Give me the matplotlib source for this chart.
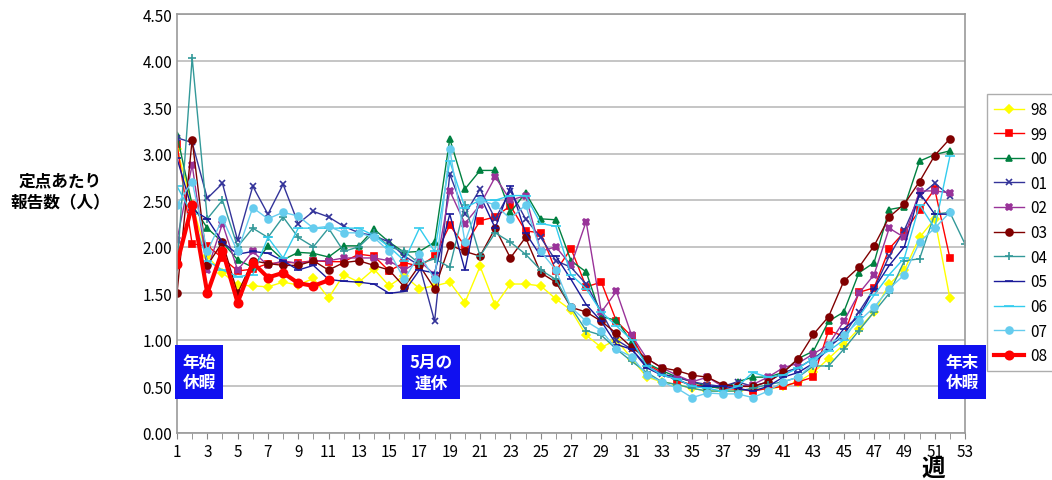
import matplotlib
matplotlib.use("Agg")
import matplotlib.pyplot as plt
import numpy as np

plt.rcParams['font.family'] = ['Noto Sans CJK JP', 'DejaVu Sans']

weeks = list(range(1, 54))

y98 = [3.05, 2.45, 1.9, 1.72, 1.59, 1.58, 1.57, 1.62, 1.59, 1.66, 1.45, 1.7, 1.62, 1.76, 1.58, 1.69, 1.55, 1.58, 1.62, 1.4,
       1.79, 1.37, 1.6, 1.6, 1.58, 1.44, 1.32, 1.05, 0.92, 1.0, 0.8, 0.6, 0.55, 0.52, 0.48, 0.45, 0.45, 0.45, 0.47, 0.47,
       0.5, 0.55, 0.65, 0.8, 0.95, 1.12, 1.3, 1.6, 1.75, 2.1, 2.3, 1.45]
y99 = [3.1, 2.03, 2.01, 1.88, 1.74, 1.76, 1.82, 1.83, 1.83, 1.85, 1.84, 1.84, 1.92, 1.9, 1.74, 1.83, 1.79, 1.9, 2.23, 2.01,
       2.28, 2.32, 2.44, 2.17, 2.15, 1.74, 1.98, 1.57, 1.62, 1.2, 1.04, 0.74, 0.65, 0.56, 0.52, 0.5, 0.48, 0.47, 0.45, 0.48,
       0.5, 0.55, 0.6, 1.1, 1.04, 1.51, 1.56, 1.98, 2.16, 2.39, 2.62, 1.88]
y00 = [3.2, 2.45, 2.2, 2.05, 1.86, 1.78, 2.01, 1.86, 1.94, 1.93, 1.89, 2.01, 2.01, 2.19, 2.05, 1.94, 1.95, 2.05, 3.16, 2.62,
       2.82, 2.82, 2.37, 2.58, 2.3, 2.29, 1.85, 1.73, 1.25, 1.21, 0.98, 0.75, 0.67, 0.6, 0.55, 0.5, 0.48, 0.55, 0.6, 0.6,
       0.65, 0.8, 0.88, 1.2, 1.3, 1.72, 1.83, 2.4, 2.43, 2.92, 2.99, 3.03]
y01 = [3.17, 3.12, 2.52, 2.68, 2.07, 2.65, 2.35, 2.67, 2.25, 2.38, 2.32, 2.22, 2.15, 2.12, 2.05, 1.9, 1.8, 1.2, 2.78, 2.35,
       2.62, 2.3, 2.6, 2.3, 2.1, 1.85, 1.78, 1.6, 1.3, 1.0, 0.9, 0.72, 0.63, 0.6, 0.55, 0.52, 0.5, 0.55, 0.5, 0.55,
       0.65, 0.7, 0.8, 0.92, 1.05, 1.3, 1.55, 1.9, 2.18, 2.55, 2.68, 2.55]
y02 = [2.07, 2.88, 1.75, 2.25, 1.75, 1.95, 1.8, 1.85, 1.82, 1.85, 1.85, 1.88, 1.88, 1.88, 1.85, 1.75, 1.85, 1.7, 2.6, 2.25,
       2.45, 2.75, 2.5, 2.55, 1.95, 2.0, 1.8, 2.27, 1.3, 1.52, 1.05, 0.8, 0.7, 0.62, 0.55, 0.6, 0.5, 0.5, 0.52, 0.6,
       0.7, 0.75, 0.85, 0.95, 1.2, 1.5, 1.7, 2.2, 2.1, 2.6, 2.6, 2.58]
y03 = [1.5, 3.15, 1.8, 2.05, 1.5, 1.85, 1.82, 1.8, 1.8, 1.85, 1.75, 1.83, 1.85, 1.8, 1.75, 1.57, 1.8, 1.55, 2.02, 1.95,
       1.9, 2.2, 1.88, 2.1, 1.72, 1.62, 1.35, 1.3, 1.2, 1.07, 0.92, 0.8, 0.7, 0.67, 0.62, 0.6, 0.52, 0.5, 0.5, 0.55,
       0.65, 0.8, 1.06, 1.25, 1.63, 1.78, 2.01, 2.32, 2.46, 2.7, 2.98, 3.16]
y04 = [1.78, 4.03, 2.3, 2.5, 2.0, 2.2, 2.1, 2.32, 2.1, 2.0, 2.2, 1.95, 2.0, 2.15, 2.0, 1.95, 1.82, 1.87, 1.78, 2.45,
       1.9, 2.15, 2.05, 1.92, 1.75, 1.65, 1.35, 1.1, 1.05, 0.9, 0.77, 0.65, 0.55, 0.52, 0.48, 0.45, 0.45, 0.45, 0.48, 0.52,
       0.55, 0.6, 0.72, 0.72, 0.9, 1.1, 1.3, 1.5, 1.85, 1.87, 2.35, 2.37, 2.03]
y05 = [2.95, 2.4, 2.3, 2.05, 1.92, 1.95, 1.93, 1.85, 1.75, 1.8, 1.65, 1.63, 1.62, 1.6, 1.5, 1.52, 1.75, 1.72, 2.35, 1.75,
       2.55, 2.2, 2.65, 2.15, 1.9, 1.9, 1.65, 1.38, 1.2, 0.95, 0.9, 0.7, 0.62, 0.58, 0.5, 0.5, 0.5, 0.48, 0.45, 0.5,
       0.6, 0.65, 0.75, 0.9, 1.12, 1.25, 1.55, 1.8, 2.0, 2.58, 2.35, 2.35]
y06 = [2.65, 2.35, 1.85, 1.75, 1.68, 1.7, 2.1, 1.88, 2.2, 2.2, 2.2, 2.2, 2.2, 2.12, 2.0, 1.85, 2.2, 1.95, 2.92, 2.42,
       2.5, 2.5, 2.55, 2.55, 2.25, 2.22, 1.7, 1.55, 1.3, 1.15, 1.0, 0.72, 0.62, 0.58, 0.5, 0.48, 0.45, 0.5, 0.65, 0.6,
       0.62, 0.7, 0.8, 0.88, 1.0, 1.25, 1.48, 1.7, 1.88, 2.45, 2.2, 2.97]
y07 = [2.45, 2.7, 1.95, 2.3, 1.95, 2.42, 2.3, 2.37, 2.33, 2.2, 2.22, 2.15, 2.15, 2.1, 1.95, 1.65, 1.92, 1.65, 3.05, 2.05,
       2.5, 2.45, 2.3, 2.45, 1.95, 1.75, 1.35, 1.2, 1.1, 0.9, 0.82, 0.62, 0.55, 0.48, 0.38, 0.43, 0.42, 0.42, 0.38, 0.45,
       0.55, 0.6, 0.75, 0.95, 1.05, 1.2, 1.35, 1.55, 1.7, 2.05, 2.2, 2.37]
y08 = [1.82, 2.45, 1.5, 1.96, 1.4, 1.83, 1.67, 1.72, 1.61, 1.58, 1.64]

series = [
    ("98", y98, "#FFFF00", "D", 4, 1.0),
    ("99", y99, "#FF0000", "s", 5, 1.0),
    ("00", y00, "#008040", "^", 5, 1.0),
    ("01", y01, "#333399", "x", 5, 1.0),
    ("02", y02, "#993399", "X", 5, 1.0),
    ("03", y03, "#800000", "o", 5, 1.0),
    ("04", y04, "#339999", "+", 6, 1.0),
    ("05", y05, "#1A1A99", "_", 6, 1.0),
    ("06", y06, "#33CCEE", "_", 7, 1.0),
    ("07", y07, "#66CCEE", "o", 5, 1.0),
    ("08", y08, "#FF0000", "o", 6, 3.0),
]

fig = plt.figure(figsize=(10.52, 4.81), dpi=100)
ax = fig.add_axes([177 / 1052, 47 / 481, 788 / 1052, 419 / 481])

for name, vals, col, mk, ms, lw in series:
    ax.plot(weeks[:len(vals)], vals, color=col, marker=mk, markersize=ms, linewidth=lw,
            markeredgewidth=1.2, label=name)

ax.set_xlim(1, 53)
ax.set_ylim(0, 4.5)
ax.set_yticks(np.arange(0, 4.51, 0.5))
ax.set_yticklabels([f"{v:.2f}" for v in np.arange(0, 4.51, 0.5)], fontsize=11)
ax.set_xticks(range(1, 54, 2))
ax.set_xticks(range(1, 54), minor=True)
ax.tick_params(axis='x', labelsize=11, length=4, color='#888888')
ax.tick_params(axis='x', which='minor', length=4, color='#888888')
ax.tick_params(axis='y', length=0)
ax.grid(axis='y', color='#BBBBBB', linewidth=1.2)
ax.set_axisbelow(True)
for s in ax.spines.values():
    s.set_color('#999999')
    s.set_linewidth(1.2)

box = dict(boxstyle='square,pad=0.45', facecolor='#1010F0', edgecolor='none')
for wk, txt in [(2.45, "年始\n休暇"), (17.77, "5月の\n連休"), (52.8, "年末\n休暇")]:
    ax.text(wk, 0.655, txt, color='white', fontsize=12, fontweight='bold', ha='center', va='center',
            bbox=box, linespacing=1.2, clip_on=False)

fig.text(0.057, 0.6, "定点あたり\n報告数（人）", fontsize=12, fontweight='bold', ha='center', va='center',
         linespacing=1.3)
fig.text(0.887, 0.0, "週", fontsize=17, fontweight='bold', ha='center', va='bottom')

fig.legend(loc='upper left', bbox_to_anchor=(987 / 1052, 1 - 95 / 481), frameon=True, fancybox=False,
           edgecolor='#999999', fontsize=11, handlelength=2.0, handletextpad=0.4, labelspacing=0.5,
           borderpad=0.45, borderaxespad=0)

fig.savefig("out.png", dpi=100)
